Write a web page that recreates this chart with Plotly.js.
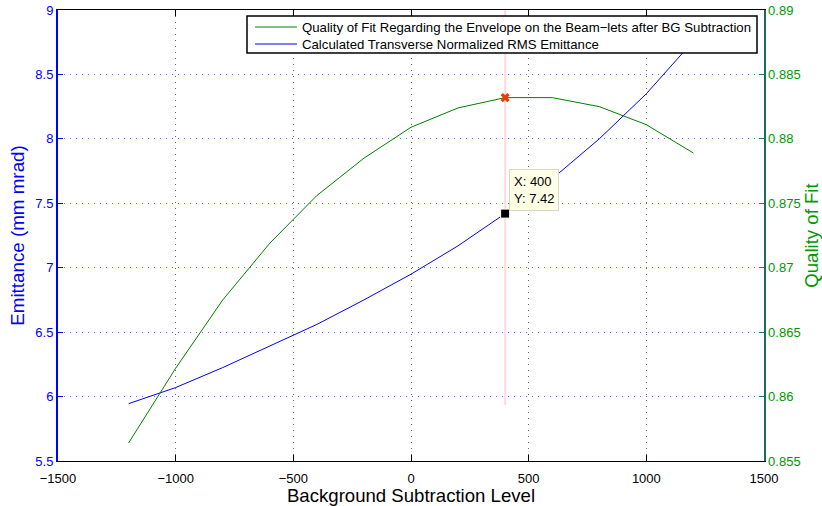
<!DOCTYPE html>
<html><head><meta charset="utf-8">
<script src="https://cdn.plot.ly/plotly-3.0.1.min.js"></script>
<style>html,body{margin:0;padding:0;background:#fff}#chart{width:822px;height:506px}</style>
</head><body><div id="chart"></div>
<script>
const bgLevels = [-1200,-1000,-800,-600,-400,-200,0,200,400,600,800,1000,1200];
const emittance = [5.945,6.07,6.225,6.39,6.56,6.75,6.95,7.17,7.42,7.69,8.0,8.35,8.76];
const quality = [0.8564,0.8622,0.8675,0.8719,0.8756,0.8785,0.8809,0.8824,0.8832,0.8832,0.8825,0.8811,0.8789];
const cursorX = [400];
const cursorEmittance = [7.42];
const cursorQuality = [0.8832];
const cursorLineY = [5.935, 9];
const legendLabels = ['Quality of Fit Regarding the Envelope on the Beam\u2212lets after BG Subtraction',
                      'Calculated Transverse Normalized RMS Emittance'];
const legendColors = ['#008000', '#0000ff'];

const font = 'Liberation Sans, Arial, Helvetica, sans-serif';
const traces = [
  {x:[cursorX[0],cursorX[0]], y:cursorLineY, mode:'lines', line:{color:'rgba(255,150,150,0.35)', width:2}, showlegend:false, hoverinfo:'skip'},
  {x:bgLevels, y:quality, yaxis:'y2', mode:'lines', name:legendLabels[0], line:{color:legendColors[0], width:1}, showlegend:false},
  {x:bgLevels, y:emittance, mode:'lines', name:legendLabels[1], line:{color:legendColors[1], width:1}, showlegend:false},
  {x:cursorX, y:cursorEmittance, mode:'markers', showlegend:false, marker:{symbol:'square', size:9, color:'#000', line:{color:'#ffffe0', width:1}}},
  {x:cursorX, y:cursorQuality, yaxis:'y2', mode:'markers', showlegend:false, marker:{symbol:'x', size:8, color:'#ee3a00', line:{width:0}}}
];

// manual legend box (paper coordinates)
const lg = {x0:0.2677, x1:0.9901, y0:0.9047, y1:0.9867, lx0:0.2790, lx1:0.3385, tx:0.3428, rows:[0.9623, 0.9246]};
const shapes = [{type:'rect', xref:'paper', yref:'paper', x0:lg.x0, x1:lg.x1, y0:lg.y0, y1:lg.y1,
                 fillcolor:'#fff', line:{color:'#000', width:1.5}, layer:'above'}];
const annotations = [];
legendLabels.forEach((t,i)=>{
  shapes.push({type:'line', xref:'paper', yref:'paper', x0:lg.lx0, x1:lg.lx1, y0:lg.rows[i], y1:lg.rows[i],
               line:{color:legendColors[i], width:1}, layer:'above'});
  annotations.push({xref:'paper', yref:'paper', x:lg.tx, y:lg.rows[i], text:t, showarrow:false,
                    xanchor:'left', yanchor:'middle', font:{family:font, size:13.2, color:'#000'}});
});
annotations.push({x:cursorX[0], y:cursorEmittance[0], xref:'x', yref:'y', text:'X: 400<br>Y: 7.42', showarrow:false,
     xanchor:'left', yanchor:'bottom', xshift:4, yshift:3, align:'left', bgcolor:'#ffffe6', bordercolor:'#d8d8c8',
     borderwidth:1, borderpad:4, font:{family:font, size:13, color:'#000'}});

const layout = {
  width:822, height:506,
  margin:{l:58, r:58, t:10, b:45},
  paper_bgcolor:'#fff', plot_bgcolor:'#fff',
  font:{family:font, size:13, color:'#000'},
  showlegend:false,
  xaxis:{range:[-1500,1500], dtick:500, tick0:0, showline:true, linecolor:'#000', linewidth:1, mirror:'ticks',
         ticks:'inside', ticklen:6, tickcolor:'#000', showgrid:true, gridcolor:'#666', griddash:'1px,5px', gridwidth:1,
         zeroline:false, tickfont:{size:13, color:'#000'}, ticklabelstandoff:5,
         title:{text:'Background Subtraction Level', font:{size:18.6, color:'#000'}, standoff:0}},
  yaxis:{range:[5.5,9], dtick:0.5, showline:true, linecolor:'#0000ff', linewidth:2, ticks:'inside', ticklen:5,
         tickcolor:'#0000ff', showgrid:true, gridcolor:'#5a6cff', griddash:'1px,5px', gridwidth:1, zeroline:false,
         tickfont:{size:13, color:'#0000ff'},
         title:{text:'Emittance (mm mrad)', font:{size:18.8, color:'#0000ff'}, standoff:6}},
  yaxis2:{range:[0.855,0.89], dtick:0.005, overlaying:'y', side:'right', showline:true, linecolor:'#1e6b5e', linewidth:1.5,
          ticks:'inside', ticklen:5, tickcolor:'#1e7b6e', showgrid:false, zeroline:false,
          tickfont:{size:13, color:'#009900'},
          title:{text:'Quality of Fit', font:{size:18.6, color:'#009900'}, standoff:8}},
  shapes:shapes,
  annotations:annotations
};
Plotly.newPlot('chart', traces, layout, {displayModeBar:false, staticPlot:true});
</script></body></html>
